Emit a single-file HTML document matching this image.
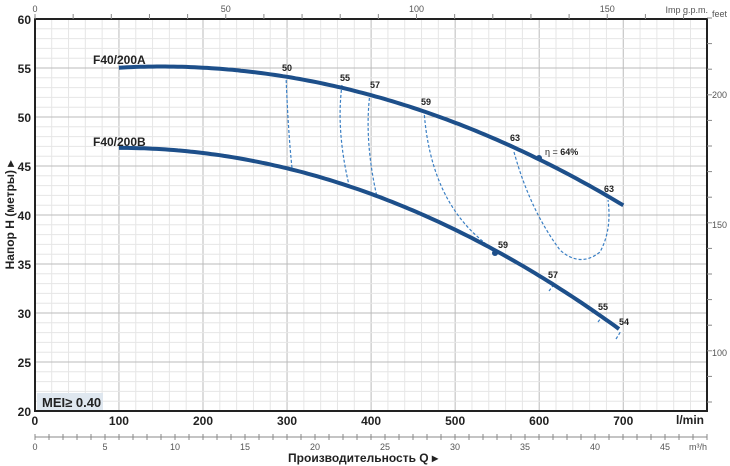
<!DOCTYPE html>
<html><head><meta charset="utf-8"><style>
body{margin:0;background:#fff}
svg{display:block;font-family:"Liberation Sans",Arial,sans-serif}
</style></head><body>
<svg id="s" width="730" height="466" viewBox="0 0 730 466" xmlns="http://www.w3.org/2000/svg">
<g id="grid"></g>
<rect x="35" y="19" width="672" height="392" fill="none" stroke="#222" stroke-width="2"/>
<g id="ticks" stroke="#888" stroke-width="1"></g>
<g font-size="12" font-weight="bold" fill="#222" text-anchor="end" id="ylab"></g>
<g font-size="12" font-weight="bold" fill="#222" text-anchor="middle" id="xlab"></g>
<g font-size="9" fill="#555" text-anchor="middle" id="sublab"></g>
<text x="690" y="424" font-size="12" font-weight="bold" fill="#222" text-anchor="middle">l/min</text>
<text x="707" y="450" font-size="9" fill="#555" text-anchor="end">m³/h</text>
<text x="708" y="13" font-size="9" fill="#555" text-anchor="end">Imp g.p.m.</text>
<text x="712" y="17" font-size="9" fill="#555">feet</text>
<text x="712" y="98" font-size="9" fill="#555">200</text>
<text x="712" y="228" font-size="9" fill="#555">150</text>
<text x="712" y="356" font-size="9" fill="#555">100</text>
<rect x="37" y="393" width="66" height="17" fill="#dfe7ef"/>
<text x="42" y="407" font-size="13" font-weight="bold" fill="#222">MEI≥ 0.40</text>
<text transform="translate(14,215) rotate(-90)" font-size="12" font-weight="bold" fill="#222" text-anchor="middle">Напор H (метры) ▸</text>
<text x="363" y="462" font-size="12" font-weight="bold" fill="#222" text-anchor="middle">Производительность Q ▸</text>
<g fill="none" stroke="#3a7fc4" stroke-width="1.2" stroke-dasharray="3,2">
<path d="M286,75 Q288,130 292,168"/>
<path d="M342,85 Q336,130 349,185"/>
<path d="M370,93 Q364,140 377,197"/>
<path d="M424,110 Q430,200 485,243"/>
<path d="M514,152 Q530,210 560,250 Q580,268 600,252 Q612,230 608,200"/>
<path d="M549,291 L555,283"/><path d="M598,322 L604,314"/><path d="M616,339 L621,331"/>
</g>
<path id="cA" fill="none" stroke="#1d4f8a" stroke-width="4"/>
<path id="cB" fill="none" stroke="#1d4f8a" stroke-width="4"/>
<circle cx="539" cy="158" r="3" fill="#1d4f8a"/>
<circle cx="495" cy="253" r="3" fill="#1d4f8a"/>
<g font-size="9" font-weight="bold" fill="#222">
<text x="282" y="71">50</text><text x="340" y="81">55</text><text x="370" y="88">57</text>
<text x="421" y="105">59</text><text x="510" y="141">63</text><text x="604" y="192">63</text>
<text x="498" y="248">59</text><text x="548" y="278">57</text><text x="598" y="310">55</text>
<text x="619" y="325">54</text>
<text x="545" y="155" font-weight="normal">η = <tspan font-weight="bold">64%</tspan></text>
</g>
<g font-size="12" font-weight="bold" fill="#222">
<text x="93" y="64">F40/200A</text><text x="93" y="146">F40/200B</text>
</g>
</svg>
<script>
const NS="http://www.w3.org/2000/svg";
function el(p,t,a,txt){const e=document.createElementNS(NS,t);for(const k in a)e.setAttribute(k,a[k]);if(txt!==undefined)e.textContent=txt;document.getElementById(p).appendChild(e);}
const X=q=>34.9+q*0.8405, Y=h=>19+(60-h)*9.8;
for(let q=20;q<800;q+=20){const maj=q%100==0;el('grid','line',{x1:X(q),x2:X(q),y1:19,y2:411,stroke:maj?'#bbb':'#e6e6e6','stroke-width':1});}
for(let h=21;h<60;h++){const maj=h%5==0;el('grid','line',{x1:35,x2:707,y1:Y(h),y2:Y(h),stroke:maj?'#bbb':'#e6e6e6','stroke-width':1});}
for(let h=20;h<=60;h+=5)el('ylab','text',{x:31,y:Y(h)+5},h);
for(let q=0;q<=700;q+=100)el('xlab','text',{x:X(q),y:425},q);
el('ticks','line',{x1:35,x2:707,y1:437,y2:437});
for(let m=0;m<=48;m++){const x=35+m*14.0;el('ticks','line',{x1:x,x2:x,y1:434,y2:440});if(m%5==0&&m<=45)el('sublab','text',{x:x,y:450},m);}
for(let g=0;g<=175;g+=10){const x=35+g*3.815;if(x>707)break;el('ticks','line',{x1:x,x2:x,y1:14,y2:19});}
[0,50,100,150].forEach(g=>el('sublab','text',{x:35+g*3.815,y:12},g));
for(let y=18;y<=411;y+=25.6)el('ticks','line',{x1:707,x2:712,y1:y,y2:y});
let a="",b="";
for(let q=100;q<=700;q+=5){a+=(q==100?"M":"L")+X(q).toFixed(1)+","+Y(55.15-4.68e-5*(q-150)**2).toFixed(1);}
for(let q=100;q<=697;q+=5){b+=(q==100?"M":"L")+X(q).toFixed(1)+","+Y(46.85-5.22e-5*(q-100)**2).toFixed(1);}
document.getElementById('cA').setAttribute('d',a);document.getElementById('cB').setAttribute('d',b);
</script>
</body></html>
